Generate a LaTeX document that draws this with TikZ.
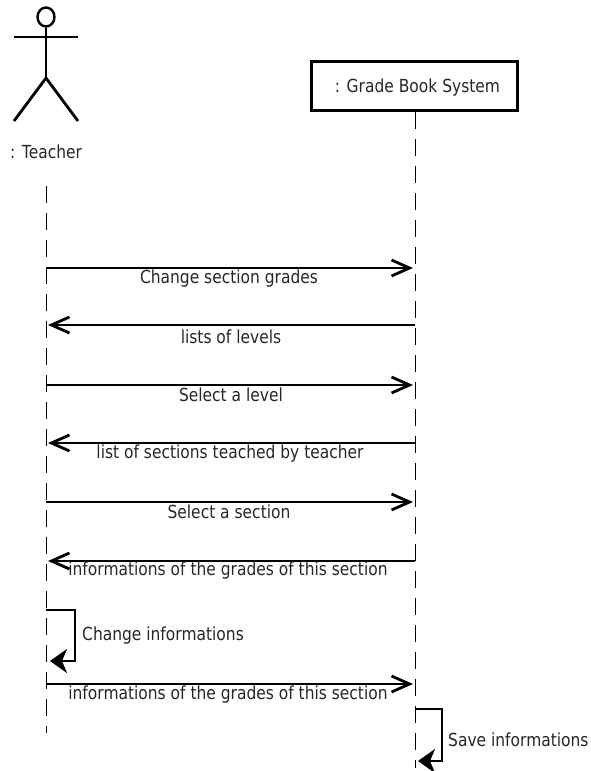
\documentclass[tikz,border=0pt]{standalone}
\usepackage{fontspec}
\setmainfont{DejaVu Sans}[FakeStretch=0.86]
\usetikzlibrary{arrows.meta,shapes.geometric}
\tikzset{
  msg/.style={line width=2.8pt,shorten >=2pt,-{Straight Barb[length=18pt,width=16pt,line width=2.8pt]}},
  selfmsg/.style={line width=2.8pt,-{Stealth[length=17pt,width=24pt,inset=5pt]}},
  life/.style={line width=1pt,dash pattern=on 17pt off 10pt},
  limb/.style={line width=2.8pt},
  lbl/.style={font=\fontsize{18}{20}\selectfont,inner sep=0pt,text=black!85},
  objbox/.style={draw,line width=3pt,minimum width=206pt,minimum height=49pt,inner sep=0pt,font=\fontsize{18}{20}\selectfont,text=black!85}
}
\begin{document}
\begin{tikzpicture}[x=1pt,y=-1pt]
\useasboundingbox (0,0) rectangle (591,771);
% actor
\node[draw,ellipse,line width=2.4pt,minimum width=17pt,minimum height=19pt,inner sep=0pt] (head) at (46,17) {};
\coordinate (hip) at (46,78);
\coordinate (armL) at (14,37);
\coordinate (armR) at (78,37);
\coordinate (legL) at (14,121);
\coordinate (legR) at (78,121);
\draw[limb] (head.south) -- (hip);
\draw[limb] (armL) -- (armR);
\draw[limb] (legL) -- (hip) -- (legR);
\node[lbl,anchor=west] (teacher) at (10,151.5) {: Teacher};
% object
\node[objbox,text depth=0pt] (gbs) at (414,85.5) {\hspace*{7pt}: Grade Book System};
% lifelines
\coordinate (t0) at (46,186);
\coordinate (t1) at (46,733);
\coordinate (g1) at (415,768);
\draw[life] (t0) -- (t1);
\draw[life] (415,112) coordinate (g0) -- (g1);
% anchors on lifelines
\foreach \n/\y in {1/268,2/325,3/385,4/443,5/502,6/561,8/684}{
  \coordinate (ta\n) at (46,\y);
  \coordinate (ga\n) at (415,\y);
}
\coordinate (sa) at (46,610);
\coordinate (sb) at (75,610);
\coordinate (sc) at (75,661);
\coordinate (se) at (50,661);
\coordinate (ua) at (415,709);
\coordinate (ub) at (442,709);
\coordinate (uc) at (442,761);
\coordinate (ue) at (418,761);
\draw[msg] (ta1) -- (ga1);
\draw[msg] (ga2) -- (ta2);
\draw[msg] (ta3) -- (ga3);
\draw[msg] (ga4) -- (ta4);
\draw[msg] (ta5) -- (ga5);
\draw[msg] (ga6) -- (ta6);
\draw[msg] (ta8) -- (ga8);
\draw[selfmsg] (sa) -- (sb) -- (sc) -- (se);
\draw[selfmsg] (ua) -- (ub) -- (uc) -- (ue);
% labels
\node[lbl] (m1) at (229,279) {Change section grades};
\node[lbl] (m2) at (231,337) {lists of levels};
\node[lbl] (m3) at (231,395) {Select a level};
\node[lbl] (m4) at (230,454) {list of sections teached by teacher};
\node[lbl] (m5) at (229,512) {Select a section};
\node[lbl] (m6) at (228,571) {informations of the grades of this section};
\node[lbl,anchor=west] (m7) at (82,636) {Change informations};
\node[lbl] (m8) at (228,695) {informations of the grades of this section};
\node[lbl,anchor=west] (m9) at (448,740) {Save informations};
\end{tikzpicture}
\end{document}
